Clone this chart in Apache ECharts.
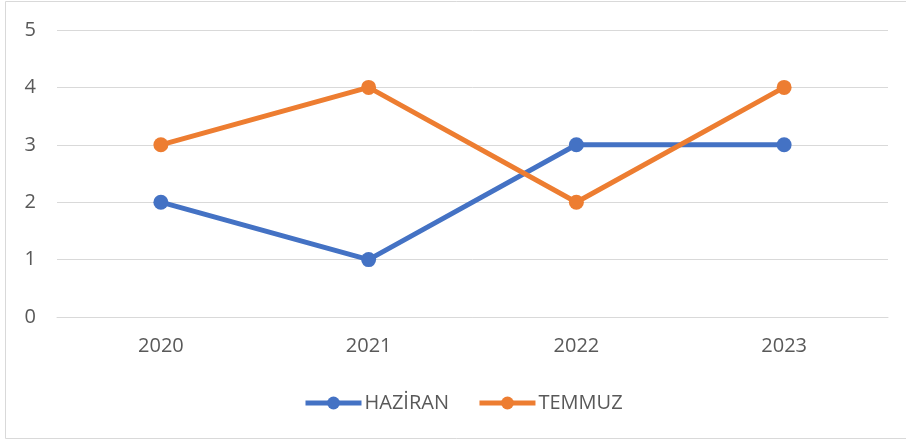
<!DOCTYPE html>
<html>
<head>
<meta charset="utf-8">
<script src="https://cdn.jsdelivr.net/npm/echarts@6/dist/echarts.min.js"></script>
<style>
  html, body { margin: 0; padding: 0; background: #fff; }
  #chart { width: 906px; height: 445px; }
</style>
</head>
<body>
<div id="chart"></div>
<script>
var years = ['2020', '2021', '2022', '2023'];
var haziran = [2, 1, 3, 3];
var temmuz = [3, 4, 2, 4];

var myChart = echarts.init(document.getElementById('chart'));
var textFont = "'Open Sans', 'Noto Sans', sans-serif";

var option = {
    backgroundColor: '#fff',
    animation: false,
    graphic: [
        {
            type: 'rect',
            shape: { x: 5.5, y: 1.5, width: 910, height: 437 },
            style: { fill: 'none', stroke: '#d9d9d9', lineWidth: 1 },
            silent: true
        }
    ],
    grid: {
        left: 57,
        right: 18,
        top: 30,
        bottom: 128
    },
    legend: {
        bottom: 27,
        left: 298,
        itemWidth: 56,
        itemHeight: 16,
        itemGap: 28,
        lineStyle: { width: 5 },
        textStyle: { color: '#595959', fontSize: 20, fontFamily: textFont, padding: [0, 0, 0, -2] },
        data: ['HAZİRAN', 'TEMMUZ']
    },
    xAxis: {
        type: 'category',
        data: years,
        axisLine: { show: true, lineStyle: { color: '#d9d9d9', width: 1 } },
        axisTick: { show: false },
        axisLabel: { color: '#595959', fontSize: 20, fontFamily: textFont, margin: 19 }
    },
    yAxis: {
        type: 'value',
        min: 0,
        max: 5,
        interval: 1,
        axisLine: { show: false },
        axisTick: { show: false },
        splitLine: { lineStyle: { color: '#d9d9d9', width: 1 } },
        axisLabel: { color: '#595959', fontSize: 20, fontFamily: textFont, margin: 21 }
    },
    series: [
        {
            name: 'HAZİRAN',
            type: 'line',
            data: haziran,
            symbol: 'circle',
            symbolSize: 15,
            lineStyle: { color: '#4472c4', width: 5 },
            itemStyle: { color: '#4472c4' }
        },
        {
            name: 'TEMMUZ',
            type: 'line',
            data: temmuz,
            symbol: 'circle',
            symbolSize: 15,
            lineStyle: { color: '#ed7d31', width: 5 },
            itemStyle: { color: '#ed7d31' }
        }
    ]
};
myChart.setOption(option);
</script>
</body>
</html>
